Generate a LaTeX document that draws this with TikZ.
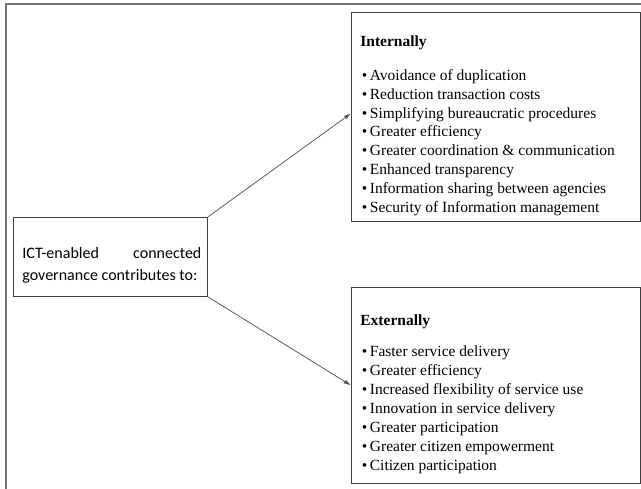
\documentclass[tikz,border=0pt]{standalone}
\usepackage{fontspec}
\setmainfont{Liberation Serif}
\newfontfamily\calibrifont{Carlito}
\usetikzlibrary{arrows.meta,positioning}

\begin{document}
\begin{tikzpicture}[x=1pt,y=1pt,line width=0.8pt,>={Latex[length=7pt,width=4pt]},
  listbox/.style={draw=black!75,rectangle,inner sep=0pt,anchor=north west},
  link/.style={->,draw=black!70,line width=0.7pt}]
  \useasboundingbox (0,0) rectangle (641,489);
  % outer frame
  \draw[black!55,line width=1.5pt] (6,0)--(6,485)--(641,485);
  % left box
  \node[listbox] (source) at (13,272){\parbox[t][79pt][t]{194pt}{\hspace*{9pt}\parbox[t]{179pt}{\calibrifont\fontsize{16pt}{22pt}\selectfont
    \rule{0pt}{41pt}ICT-enabled\hfill connected\\governance contributes to:}}};
  % internally
  \node[listbox] (internal) at (351,477){\parbox[t][209pt][t]{289pt}{\hspace*{9pt}\parbox[t]{278pt}{\fontsize{15.5pt}{18.9pt}\selectfont
    \rule{0pt}{34pt}\textbf{Internally}\\[15pt]
    \hspace*{1.5pt}\textbullet\,Avoidance of duplication\\
    \hspace*{1.5pt}\textbullet\,Reduction transaction costs\\
    \hspace*{1.5pt}\textbullet\,Simplifying bureaucratic procedures\\
    \hspace*{1.5pt}\textbullet\,Greater efficiency\\
    \hspace*{1.5pt}\textbullet\,Greater coordination \& communication\\
    \hspace*{1.5pt}\textbullet\,Enhanced transparency\\
    \hspace*{1.5pt}\textbullet\,Information sharing between agencies\\
    \hspace*{1.5pt}\textbullet\,Security of Information management}}};
  % externally
  \node[listbox] (external) at (351,202){\parbox[t][196pt][t]{289pt}{\hspace*{9pt}\parbox[t]{278pt}{\fontsize{15.5pt}{19pt}\selectfont
    \rule{0pt}{38pt}\textbf{Externally}\\[12pt]
    \hspace*{1.5pt}\textbullet\,Faster service delivery\\
    \hspace*{1.5pt}\textbullet\,Greater efficiency\\
    \hspace*{1.5pt}\textbullet\,Increased flexibility of service use\\
    \hspace*{1.5pt}\textbullet\,Innovation in service delivery\\
    \hspace*{1.5pt}\textbullet\,Greater participation\\
    \hspace*{1.5pt}\textbullet\,Greater citizen empowerment\\
    \hspace*{1.5pt}\textbullet\,Citizen participation}}};
  % arrows
  \draw[link] (source.north east)--([yshift=3.5pt]internal.west);
  \draw[link] (source.south east)--(external.west);
\end{tikzpicture}
\end{document}
